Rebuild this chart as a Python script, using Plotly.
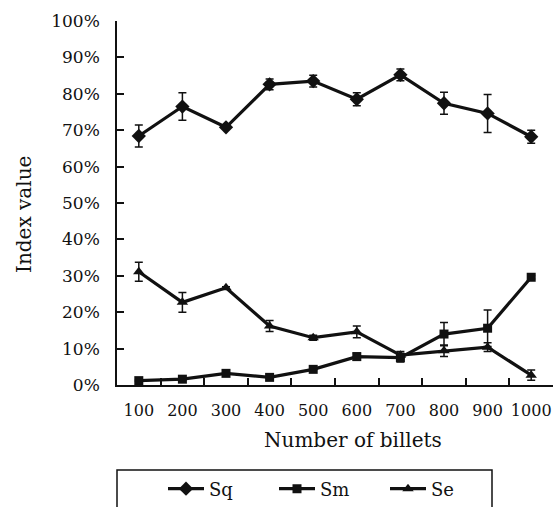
import plotly.graph_objects as go

# Number of billets (category labels on the x axis)
billets = ["100", "200", "300", "400", "500", "600", "700", "800", "900", "1000"]

# Index values (fractions) and their error half-widths
sq = [0.684, 0.765, 0.708, 0.826, 0.835, 0.785, 0.852, 0.774, 0.746, 0.682]
sq_err = [0.030, 0.038, 0.003, 0.015, 0.016, 0.018, 0.016, 0.030, 0.052, 0.018]

sm = [0.012, 0.016, 0.032, 0.021, 0.043, 0.078, 0.075, 0.140, 0.156, 0.296]
sm_err = [0.002, 0.002, 0.002, 0.002, 0.002, 0.010, 0.012, 0.032, 0.050, 0.005]

se = [0.311, 0.227, 0.267, 0.162, 0.130, 0.146, 0.082, 0.094, 0.104, 0.027]
se_err = [0.026, 0.027, 0.003, 0.015, 0.007, 0.016, 0.010, 0.016, 0.012, 0.014]

series = [
    ("Sq", sq, sq_err, "diamond", 11),
    ("Sm", sm, sm_err, "square", 9),
    ("Se", se, se_err, "triangle-up", 10),
]

INK = "#111111"
SERIF = "DejaVu Serif"

fig = go.Figure()
for name, vals, errs, sym, size in series:
    fig.add_trace(go.Scatter(
        x=billets, y=vals, name=name, mode="lines+markers",
        line=dict(color=INK, width=3.2),
        marker=dict(symbol=sym, size=size, color=INK),
        error_y=dict(type="data", array=errs, visible=True,
                     color=INK, thickness=1.5, width=4),
    ))

W, H = 555, 507
L, R, T, B = 117, 2, 21, 122
pw, ph = W - L - R, H - T - B


def px_x(px):
    return (px - L) / pw


def px_y(py):
    return (H - B - py) / ph


fig.update_layout(
    width=W, height=H,
    margin=dict(l=L, r=R, t=T, b=B, pad=0, autoexpand=False),
    paper_bgcolor="white", plot_bgcolor="white",
    font=dict(family=SERIF, size=18, color=INK),
    showlegend=True,
    legend=dict(
        orientation="h", x=px_x(163), y=px_y(489), xanchor="left", yanchor="middle",
        bgcolor="rgba(0,0,0,0)", borderwidth=0,
        font=dict(family=SERIF, size=18, color=INK),
        entrywidth=60, entrywidthmode="pixels", itemwidth=36,
    ),
    xaxis=dict(
        type="category", range=[-0.5, 9.5], tickson="boundaries",
        ticks="inside", ticklen=7, tickwidth=1.5, tickcolor=INK,
        showline=True, linewidth=1.5, linecolor=INK, mirror=False,
        showgrid=False, zeroline=False, ticklabelstandoff=10,
        tickangle=0, automargin=False,
        tickfont=dict(family=SERIF, size=16, color=INK),
    ),
    yaxis=dict(
        range=[0, 1], dtick=0.1, tickformat=".0%",
        ticks="inside", ticklen=7, tickwidth=1.5, tickcolor=INK,
        showline=True, linewidth=1.5, linecolor=INK,
        showgrid=False, zeroline=False, ticklabelstandoff=12,
        automargin=False,
        tickfont=dict(family=SERIF, size=17, color=INK),
    ),
    annotations=[
        dict(text="Index value", xref="paper", yref="paper",
             x=px_x(24), y=px_y(215), showarrow=False, textangle=-90,
             xanchor="center", yanchor="middle",
             font=dict(family=SERIF, size=20, color=INK)),
        dict(text="Number of billets", xref="paper", yref="paper",
             x=px_x(353), y=px_y(440), showarrow=False,
             xanchor="center", yanchor="middle",
             font=dict(family=SERIF, size=20, color=INK)),
    ],
    shapes=[
        dict(type="rect", xref="paper", yref="paper",
             x0=px_x(117), x1=px_x(492), y0=px_y(520), y1=px_y(470),
             line=dict(color=INK, width=1.5), fillcolor="rgba(0,0,0,0)"),
    ],
)

fig.write_html("out.html")
